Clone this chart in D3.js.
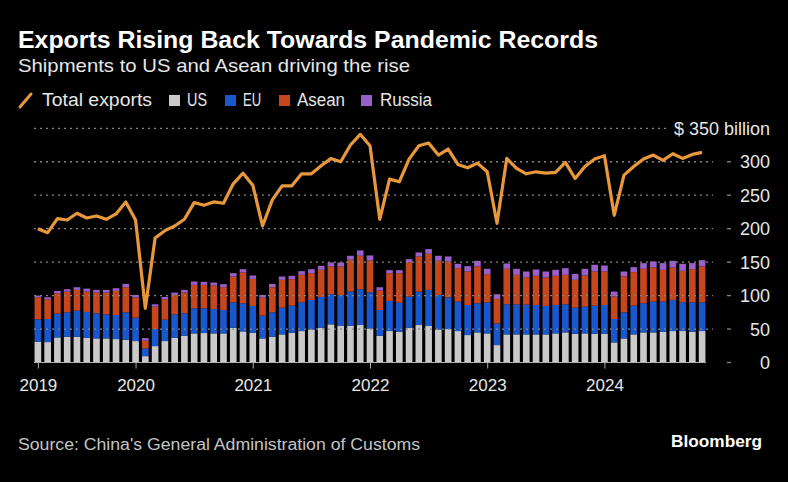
<!DOCTYPE html>
<html>
<head>
<meta charset="utf-8">
<script src="https://cdn.jsdelivr.net/npm/d3@7"></script>
<style>
  html, body { margin: 0; padding: 0; background: #000; }
  svg { display: block; font-family: "Liberation Sans", Arial, sans-serif; }
</style>
</head>
<body>
<div id="chart"></div>
<script>
// monthly, Mar 2019 .. Nov 2024 (billion USD)
const months = d3.timeMonth.range(new Date(2019, 2, 1), new Date(2024, 11, 1));

const us = [31, 30.5, 37.5, 38.5, 38.5, 37, 36, 36, 35, 34, 32, 9.5, 24.5, 32, 37, 40, 43.5, 44, 43.5, 43.5,
  52, 46.5, 44.5, 36, 38.5, 42, 44.5, 47, 49.5, 52, 57, 54.5, 55, 56, 51, 40, 47, 46, 52, 56,
  54.5, 49.5, 50, 47, 41, 45, 43.5, 26, 42, 42, 42, 42, 42, 43.5, 45, 43, 43.5, 43, 43, 30,
  36, 42, 45, 45, 46, 47, 47, 46, 47];
const eu = [33.5, 34.5, 35.5, 36.5, 39, 38.5, 37.5, 36, 36, 41, 35, 11.5, 25.5, 32, 35, 33.5, 37.5, 37, 36.5, 35,
  38, 42, 40, 34, 36.5, 40, 40.5, 43, 44, 46, 45, 46.5, 51, 53.5, 54, 38.5, 45, 43.5, 46.5, 50,
  54, 51.5, 47.5, 44, 45, 43.5, 46.5, 32.5, 45, 45, 44.5, 44, 42.5, 42.5, 42, 39, 40, 42, 43, 35,
  39, 43, 43.5, 46, 45, 46.5, 43, 44, 43];
const asean = [33, 29.5, 30.5, 31, 31, 30.5, 31, 32.5, 36, 37.5, 30, 11.5, 33.5, 30.5, 29, 31, 35, 35, 35, 34,
  38.5, 46, 40.5, 27, 37.5, 41.5, 39.5, 41, 40, 40.5, 41.5, 42.5, 47.5, 50, 47.5, 29, 41.5, 44, 51.5, 52.5,
  54, 51, 53.5, 50, 50, 55, 42, 36.5, 53, 44, 41, 43.5, 42.5, 43.5, 44, 41.5, 46.5, 51, 50, 33.5,
  53.5, 50, 51.5, 51, 47.5, 48.5, 47, 49.5, 53.5];
const russia = [2.5, 3, 3.5, 3.5, 4, 4.5, 4, 4, 4, 5, 4, 4, 3.5, 3.5, 3.5, 4, 5, 4.5, 4.5, 4.5,
  5, 5, 5, 4, 5, 5, 5, 5.5, 6, 6, 6, 6, 6, 8, 7.5, 5, 4.5, 4.5, 4.5, 6,
  7, 7.5, 7.5, 6.5, 8, 8.5, 8, 7, 8, 9, 8.5, 9.5, 9, 9, 10, 9, 10, 10, 9, 7.5,
  7.5, 7.5, 8.5, 9, 10, 10, 10.5, 9, 9.5];
const total = [200, 194, 215, 213, 223, 216, 219, 214, 222, 240, 213, 81, 186, 197, 204, 214, 239, 235, 240, 238,
  267, 283, 265, 204, 243, 264, 264, 282, 282, 294, 305, 300, 325, 341, 324, 214, 274, 270, 304, 324,
  328, 310, 319, 296, 291, 298, 285, 208, 305, 290, 282, 285, 283, 284, 299, 275, 293, 304, 309, 220,
  280, 293, 304, 310, 302, 312, 305, 311, 314];

const seriesKeys = ["US", "EU", "Asean", "Russia"];
const seriesColors = ["#c9c9c9", "#1857cc", "#c6461e", "#9a5fc8"];
const lineColor = "#e8983a";
const yTicks = [0, 50, 100, 150, 200, 250, 300, 350];

const width = 788, height = 482;
const svg = d3.select("#chart").append("svg")
  .attr("width", width)
  .attr("height", height);

svg.append("rect").attr("width", width).attr("height", height).attr("fill", "#000");

const rows = months.map((m, i) => ({ i, US: us[i], EU: eu[i], Asean: asean[i], Russia: russia[i] }));

const x = d3.scaleBand()
  .domain(d3.range(months.length))
  .range([33, 707])
  .paddingInner(0.32)
  .paddingOuter(0.16);
const cx = i => x(i) + x.bandwidth() / 2;

const y = d3.scaleLinear().domain([0, 350]).range([362.5, 128.3]);

// Titres
function fitText(sel, w) {
  sel.attr("textLength", w).attr("lengthAdjust", "spacingAndGlyphs");
}
svg.append("text").attr("x", 18).attr("y", 48)
  .attr("fill", "#fff").style("font-size", "23px").style("font-weight", "bold")
  .text("Exports Rising Back Towards Pandemic Records").call(fitText, 580);
svg.append("text").attr("x", 18).attr("y", 72)
  .attr("fill", "#e6e6e6").style("font-size", "19px")
  .text("Shipments to US and Asean driving the rise").call(fitText, 392);

// Légende
const legend = svg.append("g");
legend.append("line").attr("x1", 20).attr("y1", 107).attr("x2", 31).attr("y2", 94)
  .attr("stroke", lineColor).attr("stroke-width", 3).attr("stroke-linecap", "round");
legend.append("text").attr("x", 42).attr("y", 106).attr("fill", "#e6e6e6")
  .style("font-size", "18px").text("Total exports").call(fitText, 110);
const legendItems = [
  { key: "US", sx: 169, tx: 187, tw: 20 },
  { key: "EU", sx: 225, tx: 243, tw: 18 },
  { key: "Asean", sx: 279, tx: 297, tw: 48 },
  { key: "Russia", sx: 361, tx: 380, tw: 52 }
];
legendItems.forEach((d, k) => {
  legend.append("rect").attr("x", d.sx).attr("y", 95).attr("width", 11).attr("height", 11)
    .attr("fill", seriesColors[k]);
  legend.append("text").attr("x", d.tx).attr("y", 106).attr("fill", "#e6e6e6")
    .style("font-size", "18px").text(d.key).call(fitText, d.tw);
});

// Barres empilées
const stacked = d3.stack().keys(seriesKeys)(rows);
svg.append("g").selectAll("g")
  .data(stacked)
  .enter().append("g")
  .attr("fill", (d, k) => seriesColors[k])
  .selectAll("rect")
  .data(d => d)
  .enter().append("rect")
  .attr("x", d => x(d.data.i))
  .attr("y", d => y(d[1]))
  .attr("width", x.bandwidth())
  .attr("height", d => y(d[0]) - y(d[1]));

// Grille
const grid = svg.append("g");
yTicks.filter(t => t > 0).forEach(t => {
  grid.append("line")
    .attr("x1", 34).attr("x2", t === 350 ? 666 : 713)
    .attr("y1", y(t)).attr("y2", y(t))
    .attr("stroke", "#858585").attr("stroke-width", 1.3)
    .attr("stroke-dasharray", "2,4");
});
yTicks.filter(t => t < 350).forEach(t => {
  grid.append("line").attr("x1", 727).attr("x2", 731)
    .attr("y1", y(t)).attr("y2", y(t))
    .attr("stroke", "#858585").attr("stroke-width", 1.3);
});

// Axe Y (étiquettes à droite)
svg.append("g").selectAll("text")
  .data(yTicks)
  .enter().append("text")
  .attr("x", 770)
  .attr("y", d => y(d) + 6.5)
  .attr("text-anchor", "end")
  .attr("fill", "#e6e6e6")
  .style("font-size", "18px")
  .text(d => d === 350 ? "$ 350 billion" : d);

// Axe X
const yearIdx = months.map((m, i) => i).filter(i => i === 0 || months[i].getMonth() === 0);
const xAxis = d3.axisBottom(d3.scaleLinear().domain([0, months.length - 1]).range([cx(0), cx(months.length - 1)]))
  .tickValues(yearIdx)
  .tickFormat(i => months[i].getFullYear())
  .tickSize(6)
  .tickPadding(10);
const gx = svg.append("g")
  .attr("transform", `translate(0,${y(0)})`)
  .call(xAxis);
gx.select(".domain").attr("d", "M34,0H706").attr("stroke", "#b0b0b0");
gx.selectAll(".tick line").attr("stroke", "#b0b0b0");
gx.selectAll(".tick text")
  .attr("fill", "#e6e6e6")
  .style("font-size", "17px")
  .style("font-family", "Liberation Sans, Arial, sans-serif");

// Ligne total
const line = d3.line()
  .x((d, i) => cx(i))
  .y(d => y(d));
svg.append("path")
  .datum(total)
  .attr("d", line)
  .attr("fill", "none")
  .attr("stroke", lineColor)
  .attr("stroke-width", 3.2)
  .attr("stroke-linejoin", "round");

// Source et logo
svg.append("text").attr("x", 18).attr("y", 450)
  .attr("fill", "#c4c4c4").style("font-size", "16px")
  .text("Source: China's General Administration of Customs").call(fitText, 402);
svg.append("text").attr("x", 762).attr("y", 447).attr("text-anchor", "end")
  .attr("fill", "#fff").style("font-size", "17px").style("font-weight", "bold")
  .text("Bloomberg").call(fitText, 91);
</script>
</body>
</html>
